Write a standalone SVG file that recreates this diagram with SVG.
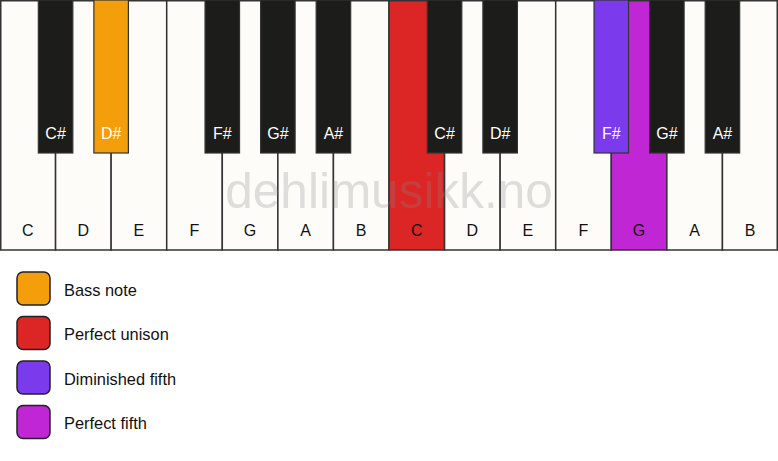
<svg xmlns="http://www.w3.org/2000/svg" width="778" height="461" viewBox="0 0 778 461">
<style>
.w{fill:#fdfcf9;stroke:#333;stroke-width:1.5}
.b{fill:#1c1c1a;stroke:#333;stroke-width:1.2}
.lw{font-family:"Liberation Sans",Arial,sans-serif;font-size:16px;fill:#111;text-anchor:middle}
.lb{font-family:"Liberation Sans",Arial,sans-serif;font-size:16px;fill:#fff;text-anchor:middle}
.leg{stroke:#222;stroke-width:1.5}
.lt{font-family:"Liberation Sans",Arial,sans-serif;font-size:16.4px;fill:#111}
.wm{font-family:"Liberation Sans",Arial,sans-serif;font-size:49.5px;fill:#888;opacity:0.26;text-anchor:middle}
</style>
<rect width="778" height="461" fill="#ffffff"/>
<g id="white-keys">
<g id="key-C1"><rect class="w" x="0.75" y="0.75" width="54.82" height="249.25"/><text class="lw" x="27.8" y="236">C</text></g>
<g id="key-D1"><rect class="w" x="55.57" y="0.75" width="55.57" height="249.25"/><text class="lw" x="83.4" y="236">D</text></g>
<g id="key-E1"><rect class="w" x="111.14" y="0.75" width="55.57" height="249.25"/><text class="lw" x="138.9" y="236">E</text></g>
<g id="key-F1"><rect class="w" x="166.71" y="0.75" width="55.57" height="249.25"/><text class="lw" x="194.5" y="236">F</text></g>
<g id="key-G1"><rect class="w" x="222.29" y="0.75" width="55.57" height="249.25"/><text class="lw" x="250.1" y="236">G</text></g>
<g id="key-A1"><rect class="w" x="277.86" y="0.75" width="55.57" height="249.25"/><text class="lw" x="305.6" y="236">A</text></g>
<g id="key-B1"><rect class="w" x="333.43" y="0.75" width="55.57" height="249.25"/><text class="lw" x="361.2" y="236">B</text></g>
<g id="key-C2"><rect class="w" x="389" y="0.75" width="55.57" height="249.25" style="fill:#dc2626"/><text class="lw" x="416.8" y="236">C</text></g>
<g id="key-D2"><rect class="w" x="444.57" y="0.75" width="55.57" height="249.25"/><text class="lw" x="472.4" y="236">D</text></g>
<g id="key-E2"><rect class="w" x="500.14" y="0.75" width="55.57" height="249.25"/><text class="lw" x="527.9" y="236">E</text></g>
<g id="key-F2"><rect class="w" x="555.71" y="0.75" width="55.57" height="249.25"/><text class="lw" x="583.5" y="236">F</text></g>
<g id="key-G2"><rect class="w" x="611.29" y="0.75" width="55.57" height="249.25" style="fill:#c026d3"/><text class="lw" x="639.1" y="236">G</text></g>
<g id="key-A2"><rect class="w" x="666.86" y="0.75" width="55.57" height="249.25"/><text class="lw" x="694.6" y="236">A</text></g>
<g id="key-B2"><rect class="w" x="722.43" y="0.75" width="54.82" height="249.25"/><text class="lw" x="750.2" y="236">B</text></g>
</g>
<text class="wm" x="389" y="208">dehlimusikk.no</text>
<g id="black-keys">
<g id="key-Cs1"><rect class="b" x="38.32" y="0" width="34.5" height="153"/><text class="lb" x="55.57" y="139">C#</text></g>
<g id="key-Ds1"><rect class="b" x="93.89" y="0" width="34.5" height="153" style="fill:#f59e0b"/><text class="lb" x="111.14" y="139">D#</text></g>
<g id="key-Fs1"><rect class="b" x="205.04" y="0" width="34.5" height="153"/><text class="lb" x="222.29" y="139">F#</text></g>
<g id="key-Gs1"><rect class="b" x="260.61" y="0" width="34.5" height="153"/><text class="lb" x="277.86" y="139">G#</text></g>
<g id="key-As1"><rect class="b" x="316.18" y="0" width="34.5" height="153"/><text class="lb" x="333.43" y="139">A#</text></g>
<g id="key-Cs2"><rect class="b" x="427.32" y="0" width="34.5" height="153"/><text class="lb" x="444.57" y="139">C#</text></g>
<g id="key-Ds2"><rect class="b" x="482.89" y="0" width="34.5" height="153"/><text class="lb" x="500.14" y="139">D#</text></g>
<g id="key-Fs2"><rect class="b" x="594.04" y="0" width="34.5" height="153" style="fill:#7c3aed"/><text class="lb" x="611.29" y="139">F#</text></g>
<g id="key-Gs2"><rect class="b" x="649.61" y="0" width="34.5" height="153"/><text class="lb" x="666.86" y="139">G#</text></g>
<g id="key-As2"><rect class="b" x="705.18" y="0" width="34.5" height="153"/><text class="lb" x="722.43" y="139">A#</text></g>
</g>
<g id="connectors"/>
<g id="legend">
<g id="legend-bass"><rect class="leg" x="17" y="272" width="33" height="33" rx="6" fill="#f59e0b"/><text class="lt" x="64" y="295.5">Bass note</text></g>
<g id="legend-unison"><rect class="leg" x="17" y="316.5" width="33" height="33" rx="6" fill="#dc2626"/><text class="lt" x="64" y="340">Perfect unison</text></g>
<g id="legend-dim5"><rect class="leg" x="17" y="361" width="33" height="33" rx="6" fill="#7c3aed"/><text class="lt" x="64" y="384.5">Diminished fifth</text></g>
<g id="legend-p5"><rect class="leg" x="17" y="405.5" width="33" height="33" rx="6" fill="#c026d3"/><text class="lt" x="64" y="429">Perfect fifth</text></g>
</g>
</svg>
